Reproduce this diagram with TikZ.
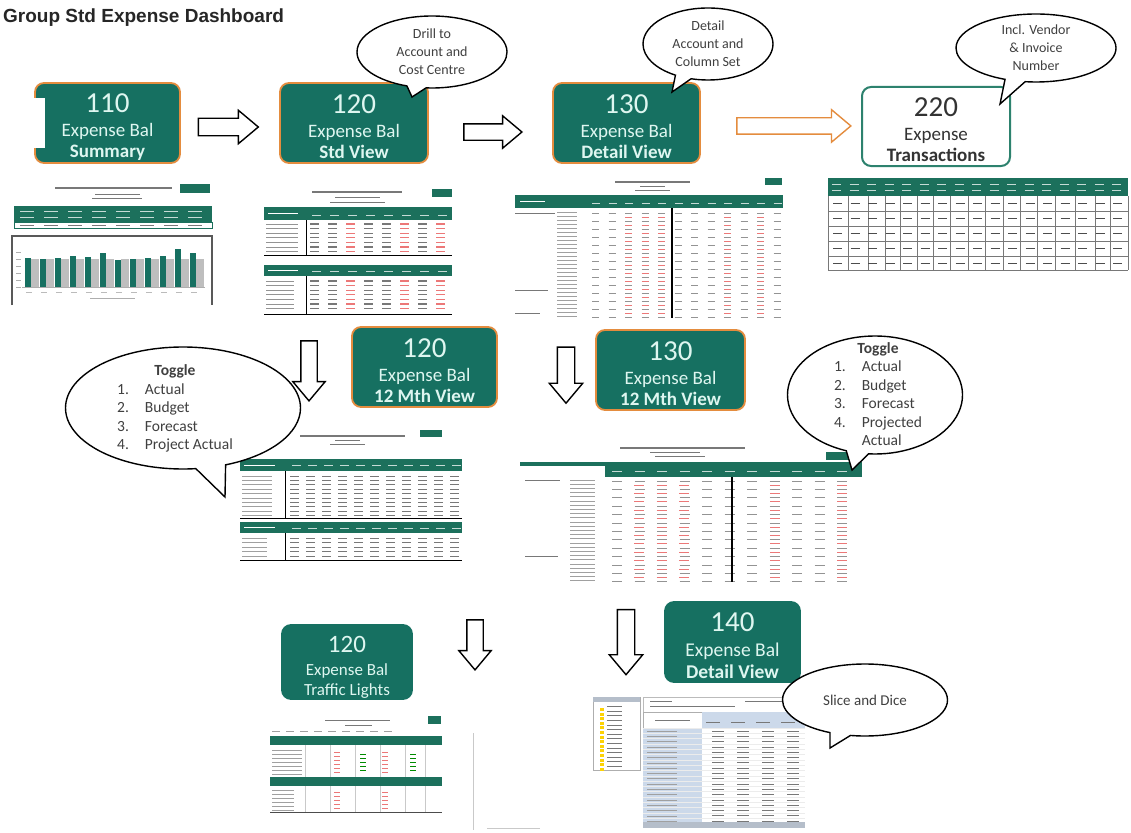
\documentclass[tikz,border=0pt]{standalone}
\usepackage{fontspec}
\setmainfont{Carlito}
\newfontfamily\titlefont{Liberation Sans}
\usetikzlibrary{shapes.callouts, shapes.arrows, positioning, calc}
\definecolor{tealbox}{RGB}{22,112,97}
\definecolor{tealline}{RGB}{45,130,110}
\definecolor{orangeline}{RGB}{228,140,62}
\definecolor{boxtext}{RGB}{222,246,240}
\definecolor{hdrteal}{RGB}{28,112,92}
\definecolor{inkgray}{RGB}{120,120,120}
\definecolor{inkred}{RGB}{236,120,120}
\definecolor{pivblue}{RGB}{204,217,234}
\definecolor{bargray}{RGB}{190,190,190}

\newcommand{\boxlabel}[3]{\rule{0pt}{26pt}{\fontsize{29}{29}\selectfont #1}\\[3pt]#2\\#3}
% x0, y0, last col, dx, last row, dy, length, style
\newcommand{\dashgrid}[8]{%
  \foreach \rr in {0,...,#5}{\foreach \cc in {0,...,#3}{%
    \draw[#8] ({#1+\cc*#4},{#2+\rr*#6}) -- ++(#7,0);}}}

\begin{document}
\begin{tikzpicture}[x=1pt, y=-1pt,
  expbox/.style={rectangle, rounded corners=9pt, fill=tealbox, draw=orangeline, line width=1.8pt,
                 text=boxtext, align=center, inner sep=0pt, font=\fontsize{19}{21}\selectfont},
  plainbox/.style={expbox, draw=tealbox},
  trnbox/.style={expbox, fill=white, draw=tealline, line width=2pt, text=black!80},
  hollow/.style={single arrow, draw=black, fill=white, line width=1.4pt, inner sep=8pt,
                 single arrow head extend=8pt, single arrow tip angle=80},
  speech/.style={ellipse callout, draw=black, fill=white, line width=1.4pt, inner sep=0pt,
                 align=center, text=black!75, font=\fontsize{14}{18}\selectfont},
  tgltext/.style={text=black!75, font=\fontsize{15.5}{18.5}\selectfont, inner sep=0pt},
  hdr/.style={fill=hdrteal},
  ink/.style={inkgray, line width=1pt},
  redink/.style={inkred, line width=1pt},
  whiteink/.style={white!75!hdrteal, line width=0.8pt}
]
\useasboundingbox (0,0) rectangle (1131,832);
\fill[white] (0,0) rectangle (1131,832);

\node[anchor=base west, inner sep=0pt, font=\titlefont\bfseries\fontsize{19}{22}\selectfont, text=black!85]
  (title) at (3,23) {Group Std Expense Dashboard};

% --- report thumbnails ---
% 110 summary
\draw[inkgray, line width=1.5pt] (55,188) -- (172,188);
\draw[inkgray, line width=0.7pt] (95,194) -- (140,194) (92,198) -- (142,198);
\fill[hdr] (180,184) rectangle (210,193);
\fill[hdr] (14,206) rectangle (212,222);
\dashgrid{20}{211}{7}{24}{1}{6}{14}{whiteink}
\draw[hdrteal, line width=1pt] (14,222) rectangle (212,228);
\dashgrid{20}{225}{7}{24}{0}{0}{14}{ink}
\draw[black!65, line width=1.5pt] (12,305) -- (12,236) -- (212,236) -- (212,305);
\dashgrid{16}{252}{0}{0}{5}{7}{5}{inkgray!60, line width=0.6pt}
\foreach \h [count=\i from 0] in {29,28,29,31,30,34,27,28,29,31,38,34}{
  \fill[bargray] ({31+\i*15},287) rectangle ++(8,-28);
  \fill[tealbox] ({25+\i*15},287) rectangle ++(6,-\h);}
\draw[inkgray!60] (22,287) -- (205,287);
\dashgrid{26}{292}{11}{15}{0}{0}{6}{inkgray!50, line width=0.6pt}
\draw[inkgray!60, line width=0.6pt] (90,298) -- (135,298);

% 120 std view
\draw[inkgray, line width=1.5pt] (312,192) -- (402,192);
\draw[inkgray, line width=0.7pt] (335,197) -- (380,197) (330,202) -- (385,202);
\fill[hdr] (432,189) rectangle (452,197);
\fill[hdr] (264,207) rectangle (452,220);
\draw[white, line width=1pt] (268,213) -- (298,213);
\dashgrid{312}{215}{7}{18}{0}{0}{9}{whiteink}
\dashgrid{266}{224}{0}{0}{6}{4.6}{32}{inkgray!80, line width=0.9pt}
\dashgrid{310}{224}{7}{18}{6}{4.6}{9}{ink, line width=1.3pt}
\foreach \cx in {346,400,436} {\dashgrid{\cx}{224}{0}{0}{6}{4.6}{9}{redink, line width=1.3pt}}
\draw[black, line width=1pt] (264,255) -- (452,255) (306,220) -- (306,255);
\fill[hdr] (264,265) rectangle (452,276);
\draw[white, line width=1pt] (268,270) -- (298,270);
\dashgrid{312}{271}{7}{18}{0}{0}{9}{whiteink}
\dashgrid{266}{281}{0}{0}{6}{4.6}{28}{inkgray!80, line width=0.9pt}
\dashgrid{310}{281}{7}{18}{6}{4.6}{9}{ink, line width=1.3pt}
\foreach \cx in {346,400,436} {\dashgrid{\cx}{281}{0}{0}{6}{4.6}{9}{redink, line width=1.3pt}}
\draw[black, line width=1pt] (264,314) -- (452,314) (306,276) -- (306,315);

% 130 detail view
\draw[inkgray, line width=1.2pt] (615,182) -- (690,182);
\draw[inkgray, line width=0.6pt] (640,186) -- (665,186) (635,190) -- (670,190);
\fill[hdr] (765,178) rectangle (782,185);
\fill[hdr] (515,195) rectangle (783,208);
\draw[white, line width=1pt] (520,201) -- (545,201);
\dashgrid{592}{203}{11}{16.5}{0}{0}{8}{whiteink}
\draw[ink] (515,213) -- (555,213) (515,290) -- (548,290) (515,313) -- (540,313);
\dashgrid{557}{212}{0}{0}{26}{4}{20}{inkgray!70, line width=0.7pt}
\dashgrid{592}{213}{11}{16.5}{13}{8}{7}{inkgray!80, line width=0.8pt}
\dashgrid{625}{217}{2}{16.5}{12}{8}{7}{redink, line width=0.8pt}
\dashgrid{724}{217}{1}{33}{12}{8}{7}{redink, line width=0.8pt}
\draw[black, line width=1.5pt] (672,208) -- (672,318);

% 220 transactions
\fill[hdr] (828,178) rectangle (1128,196);
\dashgrid{832}{184}{16}{17.5}{1}{6}{9}{whiteink}
\foreach \gx in {828,848,868,885,900,917,933,950,968,985,1003,1020,1037,1055,1075,1095,1110,1128}
  \draw[inkgray] (\gx,196) -- (\gx,270);
\foreach \gy in {211,226,241,256,270}
  \draw[inkgray] (828,\gy) -- (1128,\gy);
\dashgrid{833}{203}{16}{17.5}{4}{15}{9}{black!70, line width=1pt}

% 120 12 mth view
\draw[inkgray, line width=1.2pt] (300,436) -- (405,436);
\draw[inkgray, line width=0.6pt] (335,440) -- (360,440) (330,444) -- (365,444);
\fill[hdr] (420,430) rectangle (442,437);
\fill[hdr] (240,459) rectangle (462,471);
\draw[white, line width=1pt] (244,465) -- (275,465);
\dashgrid{292}{465}{10}{16}{0}{0}{9}{whiteink}
\dashgrid{242}{476}{0}{0}{9}{4.4}{30}{inkgray!70, line width=0.8pt}
\dashgrid{290}{476}{10}{16}{9}{4.4}{9}{ink}
\draw[black, line width=1pt] (240,518) -- (462,518) (285,471) -- (285,518);
\fill[hdr] (240,522) rectangle (462,533);
\draw[white, line width=1pt] (244,527) -- (275,527);
\dashgrid{292}{528}{10}{16}{0}{0}{9}{whiteink}
\dashgrid{242}{538}{0}{0}{4}{4.6}{25}{inkgray!70, line width=0.8pt}
\dashgrid{290}{538}{10}{16}{4}{4.6}{9}{ink}
\draw[black, line width=1pt] (240,560) -- (462,560) (285,533) -- (285,560);

% 130 12 mth view
\draw[inkgray, line width=1.2pt] (620,448) -- (745,448);
\draw[inkgray, line width=0.6pt] (650,452) -- (700,452) (655,456) -- (705,456);
\fill[hdr] (826,452) rectangle (848,460);
\fill[hdr] (520,462) rectangle (862,466);
\fill[hdr] (605,463) rectangle (862,477);
\dashgrid{612}{471}{10}{22.5}{0}{0}{10}{whiteink}
\draw[ink] (525,480) -- (560,480) (525,556) -- (558,556);
\dashgrid{570}{480}{0}{0}{24}{4.2}{25}{inkgray!70, line width=0.7pt}
\dashgrid{612}{481}{10}{22.5}{12}{8.4}{10}{inkgray!80, line width=0.9pt}
\dashgrid{634}{485}{2}{22.5}{11}{8.4}{10}{redink, line width=0.9pt}
\dashgrid{770}{485}{1}{67}{11}{8.4}{10}{redink, line width=0.9pt}
\draw[black, line width=1.4pt] (732,477) -- (732,582);

% 120 traffic lights
\draw[inkgray, line width=1pt] (325,720) -- (390,720);
\draw[inkgray, line width=0.6pt] (345,725) -- (372,725);
\fill[hdr] (428,716) rectangle (441,724);
\dashgrid{272}{731}{8}{14}{0}{0}{8}{inkgray!70, line width=0.6pt}
\fill[hdr] (270,736) rectangle (442,745);
\dashgrid{272}{750}{0}{0}{6}{4}{30}{inkgray!70, line width=0.7pt}
\foreach \gx in {305,330,355,380,405,425}
  \draw[inkgray!40] (\gx,745) -- (\gx,812);
\dashgrid{334}{752}{1}{48}{5}{4}{6}{redink}
\dashgrid{360}{754}{1}{50}{4}{4}{6}{green!55!black, line width=1pt}
\fill[hdr] (270,777) rectangle (442,786);
\dashgrid{272}{790}{0}{0}{5}{4}{22}{inkgray!70, line width=0.7pt}
\dashgrid{334}{792}{1}{48}{4}{4}{6}{redink}
\draw[black!70, line width=1pt] (270,812) -- (442,812);
\draw[inkgray!40] (473,733) -- (473,830) (487,828) -- (540,828);

% 140 detail view (pivot)
\draw[inkgray!60] (593,697) rectangle (640,770);
\fill[pivblue!70!gray] (593,697) rectangle (640,702);
\foreach \k in {0,...,13}{
  \fill[yellow!70!orange] (600,{708+\k*4.6}) rectangle ++(4,3);
  \draw[inkgray, line width=0.6pt] (607,{706.5+\k*4.6}) -- ++(15,0);}
\draw[inkgray!50] (643,697) rectangle (805,712);
\draw[inkgray, line width=0.6pt] (650,701) -- (672,701) (650,706) -- (735,706) (745,701) -- (790,701);
\fill[pivblue] (643,728) rectangle (702,828);
\draw[inkgray!60] (643,712) rectangle (702,728);
\draw[inkgray, line width=0.8pt] (655,720) -- (690,720);
\fill[pivblue] (702,712) rectangle (805,728);
\dashgrid{706}{722}{3}{25}{0}{0}{14}{inkgray, line width=0.7pt}
\foreach \k in {0,...,18}
  \draw[white!85!gray] (643,{728+\k*5.3}) -- (805,{728+\k*5.3});
\dashgrid{647}{731}{0}{0}{17}{5.3}{30}{inkgray!70, line width=0.6pt}
\dashgrid{712}{731}{3}{25}{17}{5.3}{12}{inkgray, line width=0.8pt}
\fill[pivblue!70!gray] (643,822) rectangle (805,828);

% --- boxes ---
\node[expbox, minimum width=145pt, minimum height=80pt] (b110) at (107.5,123)
  {\boxlabel{110}{Expense Bal}{\textbf{Summary}}};
\fill[white] (33,98) rectangle (45,148);
\node[expbox, minimum width=148pt, minimum height=80pt] (b120) at (354,123)
  {\boxlabel{120}{Expense Bal}{\textbf{Std View}}};
\node[expbox, minimum width=147pt, minimum height=80pt] (b130) at (626.5,123)
  {\boxlabel{130}{Expense Bal}{\textbf{Detail View}}};
\node[trnbox, minimum width=148pt, minimum height=79pt] (b220) at (936,126.5)
  {\boxlabel{220}{Expense}{\textbf{Transactions}}};
\node[expbox, minimum width=145pt, minimum height=80pt] (b120m) at (424.5,367)
  {\boxlabel{120}{Expense Bal}{\textbf{12 Mth View}}};
\node[expbox, minimum width=149pt, minimum height=80pt] (b130m) at (670.5,370)
  {\boxlabel{130}{Expense Bal}{\textbf{12 Mth View}}};
\node[plainbox, minimum width=130pt, minimum height=74pt, font=\fontsize{17}{20}\selectfont] (b120t) at (347,662)
  {\rule{0pt}{27pt}{\fontsize{25}{25}\selectfont 120}\\[3pt]Expense Bal\\Traffic Lights};
\node[plainbox, minimum width=135pt, minimum height=80pt, font=\fontsize{19.5}{22}\selectfont] (b140) at (732.5,642)
  {\boxlabel{140}{Expense Bal}{\textbf{Detail View}}};

% --- block arrows ---
\node[hollow, minimum height=60pt] (a1) at ($(b110.east)!0.43!(b120.west)+(0,4)$) {};
\node[hollow, minimum height=58pt, inner sep=7.5pt] (a2) at ($(b120.east)!0.48!(b130.west)+(0,9)$) {};
\node[hollow, draw=orangeline, minimum height=114pt, inner sep=7.5pt] (a3) at ($(b130.east)!0.55!(b220.west)+(0,1)$) {};
\node[hollow, shape border rotate=270, minimum height=60pt, inner sep=7.5pt] (d1) at (309,366) {};
\node[hollow, shape border rotate=270, minimum height=56pt] (d2) at (566,370) {};
\node[hollow, shape border rotate=270, minimum height=50pt, inner sep=7.5pt] (d3) at (475,640) {};
\node[hollow, shape border rotate=270, minimum height=65pt] (d4) at (626,637) {};

% --- callouts ---
\node[speech, minimum width=150pt, minimum height=72pt, callout absolute pointer={(412,97)}] (c1) at (432,52)
  {Drill to\\Account and\\Cost Centre};
\node[speech, minimum width=130pt, minimum height=72pt, callout absolute pointer={(672,92)}] (c2) at (708,44)
  {Detail\\Account and\\Column Set};
\node[speech, minimum width=160pt, minimum height=68pt, callout absolute pointer={(1000,104)}] (c3) at (1036,48)
  {Incl. Vendor\\\& Invoice\\Number};
\node[speech, minimum width=235pt, minimum height=122pt, callout absolute pointer={(225,497)}] (c4) at (183,408) {};
\node[tgltext] (c4txt) at (175,409) {\begin{tabular}{@{}l@{\hspace{16pt}}l@{}}
  \multicolumn{2}{c}{\textbf{Toggle}}\\1.&Actual\\2.&Budget\\3.&Forecast\\4.&Project Actual\end{tabular}};
\node[speech, minimum width=175pt, minimum height=118pt, callout absolute pointer={(852,470)}] (c5) at (875,395) {};
\node[tgltext] (c5txt) at (878,396) {\begin{tabular}{@{}l@{\hspace{16pt}}l@{}}
  \multicolumn{2}{c}{\textbf{Toggle}}\\1.&Actual\\2.&Budget\\3.&Forecast\\4.&Projected\\&Actual\end{tabular}};
\node[speech, minimum width=165pt, minimum height=72pt, font=\fontsize{15}{18}\selectfont,
      callout absolute pointer={(830,748)}] (c6) at (865,700) {Slice and Dice};
\end{tikzpicture}
\end{document}
